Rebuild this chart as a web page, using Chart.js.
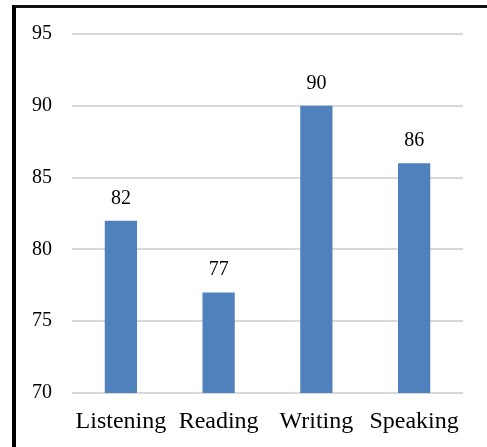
<!DOCTYPE html>
<html>
<head>
<meta charset="utf-8">
<script src="https://cdn.jsdelivr.net/npm/chart.js@4.4.1/dist/chart.umd.min.js"></script>
<style>
  html, body { margin: 0; padding: 0; background: #fff; }
  body { width: 487px; height: 447px; position: relative; overflow: hidden; }
  #frame {
    position: absolute; left: 12px; top: 5px; right: 0; bottom: 0;
    border-left: 4px solid #000; border-top: 3px solid #111;
    pointer-events: none; z-index: 2;
  }
  #wrap { position: absolute; left: 0; top: 0; width: 487px; height: 447px; }
</style>
</head>
<body>
<div id="wrap"><canvas id="c" width="487" height="447"></canvas></div>
<div id="frame"></div>
<script>
// Skill categories and their scores
const categories = ['Listening', 'Reading', 'Writing', 'Speaking'];
const scores = [82, 77, 90, 86];
// Value axis range
const yMin = 70;
const yMax = 95;
const yStep = 5;

const serif = "'Liberation Serif', 'Times New Roman', serif";

// Writes each bar's value just above its top
const valueLabels = {
  id: 'valueLabels',
  afterDatasetsDraw(chart) {
    const ctx = chart.ctx;
    const meta = chart.getDatasetMeta(0);
    ctx.save();
    ctx.font = '20px ' + serif;
    ctx.fillStyle = '#000';
    ctx.textAlign = 'center';
    ctx.textBaseline = 'alphabetic';
    meta.data.forEach((bar, i) => {
      ctx.fillText(String(chart.data.datasets[0].data[i]), bar.x, bar.y - 17);
    });
    ctx.restore();
  }
};

new Chart(document.getElementById('c'), {
  type: 'bar',
  data: {
    labels: categories,
    datasets: [{
      data: scores,
      backgroundColor: '#4f81bd',
      borderWidth: 0,
      barPercentage: 0.33,
      categoryPercentage: 1.0
    }]
  },
  options: {
    responsive: false,
    animation: false,
    devicePixelRatio: 1,
    layout: { padding: { top: 34, right: 24, bottom: 0, left: 0 } },
    plugins: {
      legend: { display: false },
      tooltip: { enabled: false },
      title: { display: false }
    },
    scales: {
      x: {
        afterFit(scale) { scale.height = 54; },
        grid: { display: false, drawTicks: false },
        border: { display: false },
        ticks: {
          color: '#000',
          font: { family: serif, size: 24 },
          padding: 14,
          maxRotation: 0,
          autoSkip: false
        }
      },
      y: {
        min: yMin,
        max: yMax,
        afterFit(scale) { scale.width = 72; },
        grid: { color: '#d9d9d9', lineWidth: 2, drawTicks: false },
        border: { display: false },
        ticks: {
          stepSize: yStep,
          color: '#000',
          font: { family: serif, size: 20 },
          padding: 20
        }
      }
    }
  },
  plugins: [valueLabels]
});
</script>
</body>
</html>
